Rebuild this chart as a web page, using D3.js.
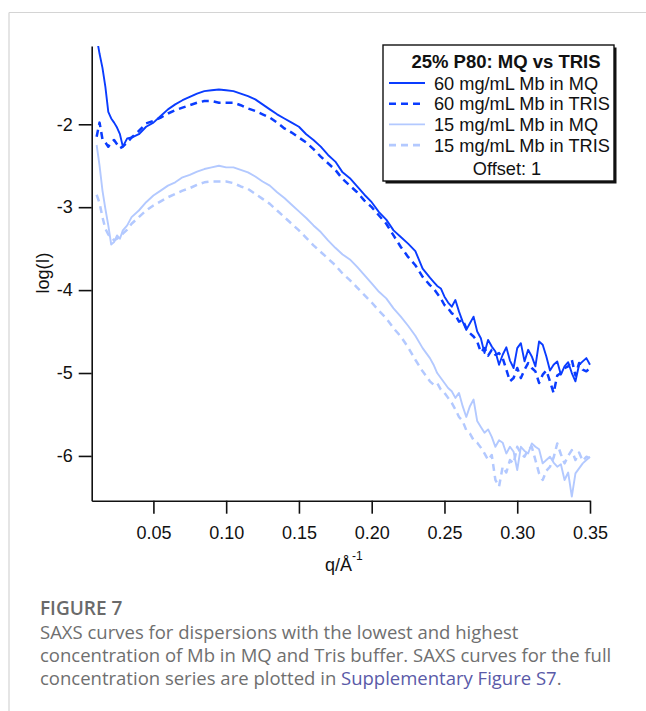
<!DOCTYPE html>
<html>
<head>
<meta charset="utf-8">
<script src="https://cdn.jsdelivr.net/npm/d3@7"></script>
<style>
  body { margin: 0; background: #fff; }
  svg { display: block; font-family: "Liberation Sans", Arial, sans-serif; }
</style>
</head>
<body>
<svg id="chart" width="646" height="711"></svg>
<script>
// q grid shared by all four curves (A^-1)
var qValues = [
  0.011, 0.013, 0.015, 0.017, 0.019, 0.021, 0.023, 0.025, 0.027, 0.029, 0.032, 0.035,
  0.040, 0.045, 0.050, 0.055, 0.060, 0.065, 0.070, 0.075, 0.080, 0.085, 0.090, 0.095,
  0.100, 0.105, 0.110, 0.115, 0.120, 0.125, 0.130, 0.135, 0.140, 0.145, 0.150, 0.155,
  0.160, 0.165, 0.170, 0.175, 0.180, 0.185, 0.190, 0.195, 0.200, 0.205, 0.210, 0.215,
  0.220, 0.225, 0.230, 0.235, 0.240,
  0.2425, 0.245, 0.2475, 0.250, 0.2525, 0.255, 0.2575, 0.260, 0.2625, 0.265, 0.2675,
  0.270, 0.2725, 0.275, 0.2775, 0.280, 0.2825, 0.285, 0.2875, 0.290, 0.2925, 0.295,
  0.2975, 0.300, 0.3025, 0.305, 0.3075, 0.310, 0.3125, 0.315, 0.3175, 0.320, 0.3225,
  0.325, 0.3275, 0.330, 0.3325, 0.335, 0.3375, 0.340, 0.3425, 0.345, 0.3475, 0.350
];

// log(I), offset already applied
var mq60 = [
  -0.95, -1.15, -1.32, -1.55, -1.85, -1.93, -1.98, -2.04, -2.12, -2.27, -2.17, -2.16,
  -2.12, -2.03, -1.98, -1.90, -1.82, -1.76, -1.71, -1.67, -1.63, -1.60, -1.59, -1.58,
  -1.59, -1.60, -1.63, -1.66, -1.70, -1.76, -1.82, -1.88, -1.93, -1.98, -2.03, -2.12,
  -2.19, -2.27, -2.37, -2.45, -2.58, -2.65, -2.75, -2.85, -2.94, -3.06, -3.15, -3.28,
  -3.36, -3.44, -3.53, -3.74, -3.85,
  -3.90, -3.95, -3.98, -4.08, -4.15, -4.20, -4.12, -4.26, -4.38, -4.48, -4.40,
  -4.32, -4.50, -4.58, -4.76, -4.60, -4.68, -4.74, -4.90, -4.78, -4.69, -4.85,
  -4.94, -4.70, -4.64, -4.86, -4.72, -4.80, -4.92, -4.62, -4.66, -4.80, -4.97,
  -4.90, -4.86, -5.02, -4.92, -4.87, -5.00, -5.10, -4.90, -4.86, -4.82, -4.90
];

var tris60 = [
  -2.15, -1.98, -2.18, -2.22, -2.27, -2.22, -2.19, -2.24, -2.29, -2.27, -2.22, -2.16,
  -2.08, -1.99, -1.96, -1.92, -1.87, -1.83, -1.80, -1.77, -1.74, -1.72, -1.72, -1.74,
  -1.74, -1.74, -1.77, -1.81, -1.84, -1.88, -1.92, -1.98, -2.05, -2.10, -2.16, -2.22,
  -2.30, -2.39, -2.47, -2.55, -2.66, -2.74, -2.82, -2.92, -3.00, -3.10, -3.20, -3.34,
  -3.48, -3.60, -3.70, -3.84, -3.94,
  -3.98, -4.04, -4.10, -4.18, -4.22, -4.28, -4.30, -4.38, -4.36, -4.46, -4.52,
  -4.56, -4.62, -4.75, -4.70, -4.79, -4.72, -4.78, -4.76, -4.82, -4.96, -5.10,
  -5.06, -4.94, -5.06, -4.96, -4.88, -4.94, -4.98, -5.12, -5.02, -4.97, -5.10,
  -5.24, -5.03, -5.00, -4.94, -4.92, -4.84, -5.03, -4.88, -4.96, -4.98, -4.94
];

var mq15 = [
  -2.25, -2.50, -2.80, -3.02, -3.22, -3.45, -3.42, -3.34, -3.38, -3.28, -3.22, -3.12,
  -3.04, -2.94, -2.86, -2.80, -2.74, -2.70, -2.64, -2.61, -2.57, -2.54, -2.52, -2.50,
  -2.52, -2.52, -2.55, -2.58, -2.63, -2.69, -2.74, -2.82, -2.89, -2.97, -3.05, -3.13,
  -3.22, -3.30, -3.40, -3.49, -3.57, -3.63, -3.72, -3.82, -3.92, -4.02, -4.10, -4.22,
  -4.32, -4.43, -4.55, -4.70, -4.82,
  -4.90, -5.00, -5.06, -5.12, -5.18, -5.22, -5.30, -5.24, -5.40, -5.53, -5.40,
  -5.32, -5.58, -5.65, -5.72, -5.68, -5.77, -5.89, -5.81, -5.84, -5.97, -5.89,
  -5.95, -6.17, -5.89, -5.94, -5.97, -5.85, -5.89, -5.92, -6.09, -6.05, -6.01,
  -6.08, -6.13, -6.10, -6.29, -6.20, -6.49, -6.21, -6.15, -6.09, -6.05, -6.01
];

var tris15 = [
  -2.85, -2.95, -3.12, -3.26, -3.33, -3.36, -3.40, -3.38, -3.35, -3.32, -3.27, -3.20,
  -3.12, -3.04, -2.98, -2.93, -2.88, -2.84, -2.80, -2.77, -2.73, -2.70, -2.69, -2.69,
  -2.69, -2.71, -2.75, -2.78, -2.84, -2.90, -2.96, -3.04, -3.12, -3.20, -3.28, -3.37,
  -3.46, -3.54, -3.62, -3.70, -3.80, -3.88, -3.97, -4.06, -4.15, -4.25, -4.34, -4.46,
  -4.56, -4.69, -4.84, -4.98, -5.10,
  -5.14, -5.12, -5.20, -5.24, -5.30, -5.36, -5.44, -5.53, -5.58, -5.69, -5.73,
  -5.81, -5.84, -5.90, -5.97, -6.05, -5.99, -6.29, -6.37, -6.13, -6.20, -6.05,
  -6.09, -5.89, -5.97, -6.01, -5.92, -5.89, -6.05, -6.21, -6.29, -6.18, -6.13,
  -6.02, -5.85, -5.98, -6.09, -6.00, -5.93, -6.05, -5.96, -6.06, -6.01, -6.03
];

var xTicks = [0.05, 0.10, 0.15, 0.20, 0.25, 0.30, 0.35];
var yTicks = [-2, -3, -4, -5, -6];
var seriesNames = ["60 mg/mL Mb in MQ", "60 mg/mL Mb in TRIS", "15 mg/mL Mb in MQ", "15 mg/mL Mb in TRIS"];
var legendTitle = "25% P80: MQ vs TRIS";
var legendNote = "Offset: 1";

(function() {
  var darkBlue = "#0a3cff", lightBlue = "#b3c9ff";

  var svg = d3.select("#chart");

  // page frame (grey rule like the journal page)
  svg.append("line").attr("x1", 9).attr("x2", 646).attr("y1", 12.5).attr("y2", 12.5)
    .attr("stroke", "#d4d4d4").attr("stroke-width", 1.2);
  svg.append("line").attr("x1", 9).attr("x2", 9).attr("y1", 12.5).attr("y2", 711)
    .attr("stroke", "#d4d4d4").attr("stroke-width", 1.2);

  var pl = 91.7, pr = 590, pt = 46, pb = 500.7;

  var x = d3.scaleLinear().domain([0.0076, 0.35]).range([pl, pr]);
  var y = d3.scaleLinear().domain([-6.54, -1.056]).range([pb, pt]);

  svg.append("clipPath").attr("id", "plotclip").append("rect")
    .attr("x", pl).attr("y", pt).attr("width", pr - pl + 2).attr("height", pb - pt);

  var series = [
    { name: seriesNames[0], vals: mq60, color: darkBlue, dash: null },
    { name: seriesNames[1], vals: tris60, color: darkBlue, dash: "7,5" },
    { name: seriesNames[2], vals: mq15, color: lightBlue, dash: null },
    { name: seriesNames[3], vals: tris15, color: lightBlue, dash: "7,5" }
  ];

  var line = d3.line()
    .x(function(d) { return x(d[0]); })
    .y(function(d) { return y(d[1]); });

  var plot = svg.append("g").attr("clip-path", "url(#plotclip)");
  // light curves first so the dark ones sit on top
  [3, 2, 1, 0].forEach(function(i) {
    var s = series[i];
    plot.append("path")
      .datum(qValues.map(function(q, k) { return [q, s.vals[k]]; }))
      .attr("fill", "none")
      .attr("stroke", s.color)
      .attr("stroke-width", s.dash ? 2.5 : 1.9)
      .attr("stroke-linejoin", "round")
      .attr("stroke-dasharray", s.dash)
      .attr("d", line);
  });

  // axes
  var xAxis = svg.append("g").attr("transform", "translate(0," + pb + ")")
    .call(d3.axisBottom(x).tickValues(xTicks).tickFormat(d3.format(".2f"))
      .tickSizeInner(13).tickSizeOuter(0).tickPadding(8));
  var yAxis = svg.append("g").attr("transform", "translate(" + pl + ",0)")
    .call(d3.axisLeft(y).tickValues(yTicks).tickFormat(function(d) { return String(d); })
      .tickSizeInner(13).tickSizeOuter(0).tickPadding(6));

  [xAxis, yAxis].forEach(function(a) {
    a.select(".domain").attr("stroke", "#111").attr("stroke-width", 1.6);
    a.selectAll(".tick line").attr("stroke", "#111").attr("stroke-width", 1.6);
    a.selectAll(".tick text").attr("fill", "#111").style("font-size", "18px")
      .style("font-family", "'Liberation Sans', Arial, sans-serif");
  });
  xAxis.selectAll(".tick text").attr("dy", "0.95em");

  // axis titles
  svg.append("text")
    .attr("transform", "translate(49,273) rotate(-90)")
    .attr("text-anchor", "middle")
    .style("font-size", "18px").attr("fill", "#111")
    .text("log(I)");

  var xt = svg.append("text").attr("x", 325).attr("y", 571)
    .style("font-size", "18px").attr("fill", "#111");
  xt.append("tspan").text("q/Å");
  xt.append("tspan").attr("dy", -11).style("font-size", "12px").text("-1");

  // legend
  var lg = svg.append("g");
  lg.append("rect").attr("x", 385.5).attr("y", 47.5).attr("width", 231).attr("height", 136)
    .attr("fill", "#111");
  lg.append("rect").attr("x", 383).attr("y", 45).attr("width", 231).attr("height", 136)
    .attr("fill", "#fff").attr("stroke", "#111").attr("stroke-width", 1.4);
  lg.append("text").attr("x", 506).attr("y", 67.5).attr("text-anchor", "middle")
    .style("font-size", "18.5px").style("font-weight", "bold").attr("fill", "#111")
    .text(legendTitle);

  var rowY = [83, 103.7, 124.4, 145.1];
  series.forEach(function(s, i) {
    lg.append("line").attr("x1", 389).attr("x2", 425).attr("y1", rowY[i]).attr("y2", rowY[i])
      .attr("stroke", s.color).attr("stroke-width", s.dash ? 2.6 : 1.8)
      .attr("stroke-dasharray", s.dash);
    lg.append("text").attr("x", 434).attr("y", rowY[i] + 6.5)
      .style("font-size", "18.2px").attr("fill", "#111").text(s.name);
  });
  lg.append("text").attr("x", 507).attr("y", 174.5).attr("text-anchor", "middle")
    .style("font-size", "18.2px").attr("fill", "#111").text(legendNote);

  // caption
  var cap = svg.append("g").style("font-family", "'Open Sans', 'Noto Sans', sans-serif");
  cap.append("text").attr("x", 40).attr("y", 615)
    .style("font-size", "19px").style("font-weight", 600).attr("fill", "#6a6a6a")
    .text("FIGURE 7");
  var capLines = [
    "SAXS curves for dispersions with the lowest and highest",
    "concentration of Mb in MQ and Tris buffer. SAXS curves for the full"
  ];
  capLines.forEach(function(t, i) {
    cap.append("text").attr("x", 40).attr("y", 639 + i * 23)
      .style("font-size", "18.5px").attr("fill", "#6f6f6f").text(t);
  });
  var last = cap.append("text").attr("x", 40).attr("y", 685)
    .style("font-size", "18.5px").attr("fill", "#6f6f6f");
  last.append("tspan").text("concentration series are plotted in ");
  last.append("tspan").attr("fill", "#5a5aa8").text("Supplementary Figure S7");
  last.append("tspan").text(".");
})();
</script>
</body>
</html>
